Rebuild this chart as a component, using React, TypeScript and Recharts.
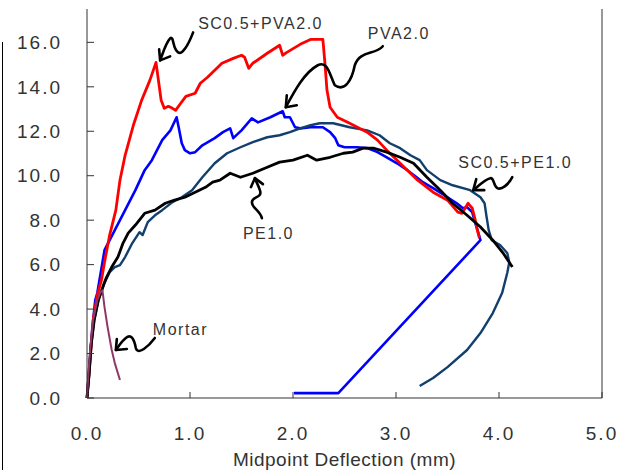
import React from 'react'
import { LineChart, Line, XAxis, YAxis, ReferenceLine, ReferenceDot } from 'recharts'

type Pt = [number, number]

const xTicks = [0, 1, 2, 3, 4, 5]
const yTicks = [0, 2, 4, 6, 8, 10, 12, 14, 16]

// SC0.5+PVA2.0 (red)
const scPva: Pt[] = [
  [0, 0], [0.03, 1.71], [0.06, 3.51], [0.1, 4.63], [0.14, 5.3], [0.17, 6.11], [0.22, 7.33],
  [0.28, 8.45], [0.32, 9.8], [0.37, 10.92], [0.45, 12.27], [0.53, 13.39], [0.61, 14.29],
  [0.67, 15.1], [0.7, 14.07], [0.72, 13.39], [0.75, 13.03], [0.79, 13.12], [0.83, 13.03],
  [0.86, 12.94], [0.91, 13.26], [0.96, 13.57], [1.05, 13.71], [1.1, 14.16], [1.17, 14.43],
  [1.22, 14.65], [1.31, 15.06], [1.42, 15.28], [1.5, 15.42], [1.53, 15.33], [1.57, 14.83],
  [1.61, 15.06], [1.75, 15.51], [1.87, 15.87], [1.9, 15.42], [1.94, 15.55], [2.07, 15.91],
  [2.17, 16.13], [2.29, 16.13], [2.31, 15.06], [2.33, 13.84], [2.36, 13.08], [2.43, 12.63],
  [2.55, 12.36], [2.72, 11.96], [2.82, 11.6], [2.91, 11.15], [3.01, 10.7], [3.11, 10.25],
  [3.21, 9.8], [3.36, 9.26], [3.5, 8.9], [3.6, 8.36], [3.64, 8.31], [3.7, 8.76], [3.74, 8.54],
  [3.77, 8.0], [3.79, 7.55], [3.81, 7.19],
]

// PVA2.0 (blue)
const pva: Pt[] = [
  [0, 0], [0.02, 1.26], [0.05, 3.06], [0.08, 4.4], [0.1, 4.72], [0.17, 6.65], [0.27, 7.55],
  [0.37, 8.45], [0.47, 9.35], [0.56, 10.25], [0.63, 10.7], [0.73, 11.6], [0.81, 12.04],
  [0.87, 12.63], [0.89, 12.18], [0.92, 11.46], [0.95, 11.15], [1.0, 11.01], [1.05, 11.06],
  [1.12, 11.37], [1.24, 11.69], [1.32, 11.96], [1.39, 12.13], [1.42, 11.69], [1.5, 12.04],
  [1.6, 12.58], [1.66, 12.4], [1.78, 12.63], [1.9, 12.9], [1.92, 12.63], [1.97, 12.63],
  [2.02, 12.18], [2.07, 12.13], [2.17, 12.18], [2.29, 12.18], [2.36, 11.96], [2.41, 11.69],
  [2.44, 11.37], [2.5, 11.28], [2.62, 11.28], [2.72, 11.24], [2.82, 11.06], [2.91, 10.83],
  [3.01, 10.56], [3.11, 10.25], [3.2, 9.93], [3.26, 9.71], [3.36, 9.44], [3.5, 9.03],
  [3.59, 8.76], [3.65, 8.54], [3.69, 8.58], [3.74, 8.36], [3.77, 7.87], [3.8, 7.42],
  [3.82, 7.1], [2.44, 0.22], [2.01, 0.22],
]

// SC0.5+PE1.0 (navy)
const scPe: Pt[] = [
  [0, 0], [0.02, 1.03], [0.04, 2.38], [0.07, 3.51], [0.11, 4.4], [0.17, 5.17], [0.22, 5.66],
  [0.27, 5.89], [0.32, 5.98], [0.37, 6.34], [0.44, 6.97], [0.51, 7.46], [0.54, 7.33],
  [0.59, 7.91], [0.66, 8.22], [0.73, 8.45], [0.83, 8.81], [0.92, 9.03], [1.02, 9.35],
  [1.12, 9.93], [1.24, 10.56], [1.36, 11.01], [1.49, 11.28], [1.61, 11.51], [1.75, 11.73],
  [1.87, 11.82], [1.97, 11.96], [2.07, 12.13], [2.17, 12.27], [2.26, 12.36], [2.39, 12.36],
  [2.55, 12.18], [2.72, 12.04], [2.84, 11.82], [2.94, 11.46], [3.04, 11.24], [3.14, 10.92],
  [3.23, 10.7], [3.3, 10.25], [3.43, 9.8], [3.55, 9.57], [3.72, 9.35], [3.82, 9.03],
  [3.86, 8.76], [3.88, 8.13], [3.9, 7.55], [3.93, 7.1], [4.01, 6.88], [4.08, 6.52],
  [4.1, 6.11], [4.08, 5.62], [4.03, 4.72], [3.94, 3.82], [3.82, 2.92], [3.69, 2.16],
  [3.5, 1.39], [3.36, 0.9], [3.23, 0.54],
]

// PE1.0 (black)
const pe: Pt[] = [
  [0, 0], [0.02, 1.03], [0.04, 2.38], [0.07, 3.51], [0.11, 4.4], [0.16, 5.08], [0.19, 5.44],
  [0.24, 5.89], [0.3, 6.34], [0.35, 6.97], [0.4, 7.42], [0.47, 7.78], [0.56, 8.31],
  [0.66, 8.45], [0.76, 8.76], [0.85, 8.9], [0.95, 9.03], [1.05, 9.26], [1.15, 9.48],
  [1.22, 9.71], [1.29, 9.8], [1.39, 10.11], [1.49, 9.93], [1.61, 10.11], [1.75, 10.38],
  [1.87, 10.61], [2.0, 10.7], [2.14, 10.92], [2.23, 10.7], [2.36, 10.83], [2.49, 11.01],
  [2.58, 11.06], [2.68, 11.24], [2.78, 11.24], [2.91, 11.06], [3.04, 10.83], [3.17, 10.56],
  [3.3, 9.93], [3.43, 9.35], [3.55, 8.76], [3.69, 8.22], [3.82, 7.69], [3.94, 7.1],
  [4.04, 6.52], [4.13, 5.89],
]

// Mortar (purple)
const mortar: Pt[] = [
  [0, 0], [0.01, 0.81], [0.03, 2.16], [0.06, 3.51], [0.1, 4.4], [0.13, 4.76], [0.15, 4.85],
  [0.17, 4.09], [0.2, 3.19], [0.24, 2.16], [0.27, 1.57], [0.32, 0.81],
]

// label name + arrow tip in data units
const noteNames = ['SC0.5+PVA2.0', 'PVA2.0', 'SC0.5+PE1.0', 'PE1.0', 'Mortar']
const noteTipX = [0.71, 1.93, 3.75, 1.63, 0.28]
const noteTipY = [15.19, 13.08, 9.35, 9.89, 2.16]

// hand drawn arrows, relative to tip
const arrowStyle: Record<string, { path: string; head: string; tx: number; ty: number }> = {
  'SC0.5+PVA2.0': {
    path: 'M 33,-28 C 28,-15 22,-5 18,-8 C 12,-12 14,-25 10,-22 C 6,-18 3,-8 0,0',
    head: 'M -1,-11 L 0,0 L 10,-4',
    tx: 38, ty: -37,
  },
  'PVA2.0': {
    path: 'M 97,-61 C 89,-52 74,-57 69,-42 C 66,-27 59,-15 49,-22 C 44,-32 42,-47 32,-42 C 19,-35 9,-17 0,0',
    head: 'M 1,-12 L 0,0 L 11,-2',
    tx: 82, ty: -74,
  },
  'SC0.5+PE1.0': {
    path: 'M 39,-13 C 35,-5 28,0 24,-2 C 20,-4 21,-13 17,-12 C 12,-11 6,-5 0,0',
    head: 'M 3,-11 L 0,0 L 11,0',
    tx: -15, ty: -28,
  },
  'PE1.0': {
    path: 'M 7,40 C 5,32 -3,30 -3,24 C -3,18 8,20 5,12 C 3,6 1,3 0,0',
    head: 'M -4,9 L 0,0 L 8,6',
    tx: -12, ty: 55,
  },
  Mortar: {
    path: 'M 39,-12 C 33,-4 22,6 20,-2 C 18,-12 15,-16 10,-12 C 6,-9 3,-4 0,0',
    head: 'M 1,-11 L 0,0 L 11,-1',
    tx: 37, ty: -20,
  },
}

const toRows = (pts: Pt[]) => pts.map(([x, y]) => ({ x, y }))

const series = [
  { key: 'pva', pts: pva, color: '#0000ff', width: 2.6 },
  { key: 'scPe', pts: scPe, color: '#123f6c', width: 2.4 },
  { key: 'scPva', pts: scPva, color: '#ff0000', width: 2.8 },
  { key: 'pe', pts: pe, color: '#000000', width: 2.8 },
  { key: 'mortar', pts: mortar, color: '#8e3868', width: 2 },
]

const font = '"Liberation Sans", Arial, sans-serif'

function Note({ cx, cy, name }: { cx?: number; cy?: number; name: string }) {
  if (cx == null || cy == null) return null
  const s = arrowStyle[name]
  return (
    <g transform={`translate(${cx},${cy})`}>
      <path d={s.path} fill="none" stroke="#000" strokeWidth={2.6} strokeLinecap="round" strokeLinejoin="round" />
      <path d={s.head} fill="none" stroke="#000" strokeWidth={2.6} strokeLinecap="round" strokeLinejoin="round" />
      <text
        x={s.tx}
        y={s.ty}
        dominantBaseline="central"
        fill="#333"
        fontSize={16}
        letterSpacing={1.5}
        fontFamily={font}
      >
        {name}
      </text>
    </g>
  )
}

export default function App() {
  return (
    <div style={{ position: 'fixed', left: 0, top: 0, width: 625, height: 470, background: '#fff' }}>
      <div style={{ position: 'absolute', left: 2, top: 42, width: 1, height: 428, background: '#000' }} />
      <LineChart width={625} height={470} margin={{ top: 9, right: 23, bottom: 0, left: 0 }}>
        <XAxis
          type="number"
          dataKey="x"
          domain={[0, 5]}
          ticks={xTicks}
          tickFormatter={(v: number) => v.toFixed(1)}
          height={72}
          tickSize={-6}
          tickMargin={35}
          stroke="#333"
          tick={{ fill: '#333', fontSize: 19, fontFamily: font, letterSpacing: 2 }}
          label={{
            value: 'Midpoint Deflection (mm)',
            position: 'insideBottom',
            offset: 4,
            fill: '#333',
            fontSize: 19,
            fontFamily: font,
            letterSpacing: 0.5,
          }}
          allowDuplicatedCategory={false}
        />
        <YAxis
          type="number"
          dataKey="y"
          domain={[0, 17.5]}
          ticks={yTicks}
          tickFormatter={(v: number) => v.toFixed(1)}
          width={87}
          tickSize={-7}
          tickMargin={32}
          stroke="#333"
          tick={{ fill: '#333', fontSize: 19, fontFamily: font, letterSpacing: 2 }}
        />
        <ReferenceLine x={5} stroke="#555" strokeWidth={1.2} />
        {series.map((s) => (
          <Line
            key={s.key}
            data={toRows(s.pts)}
            dataKey="y"
            type="linear"
            dot={false}
            activeDot={false}
            stroke={s.color}
            strokeWidth={s.width}
            strokeLinejoin="round"
            isAnimationActive={false}
          />
        ))}
        {noteNames.map((name, i) => (
          <ReferenceDot
            key={name}
            x={noteTipX[i]}
            y={noteTipY[i]}
            shape={(p: any) => <Note cx={p.cx} cy={p.cy} name={name} />}
          />
        ))}
      </LineChart>
    </div>
  )
}
